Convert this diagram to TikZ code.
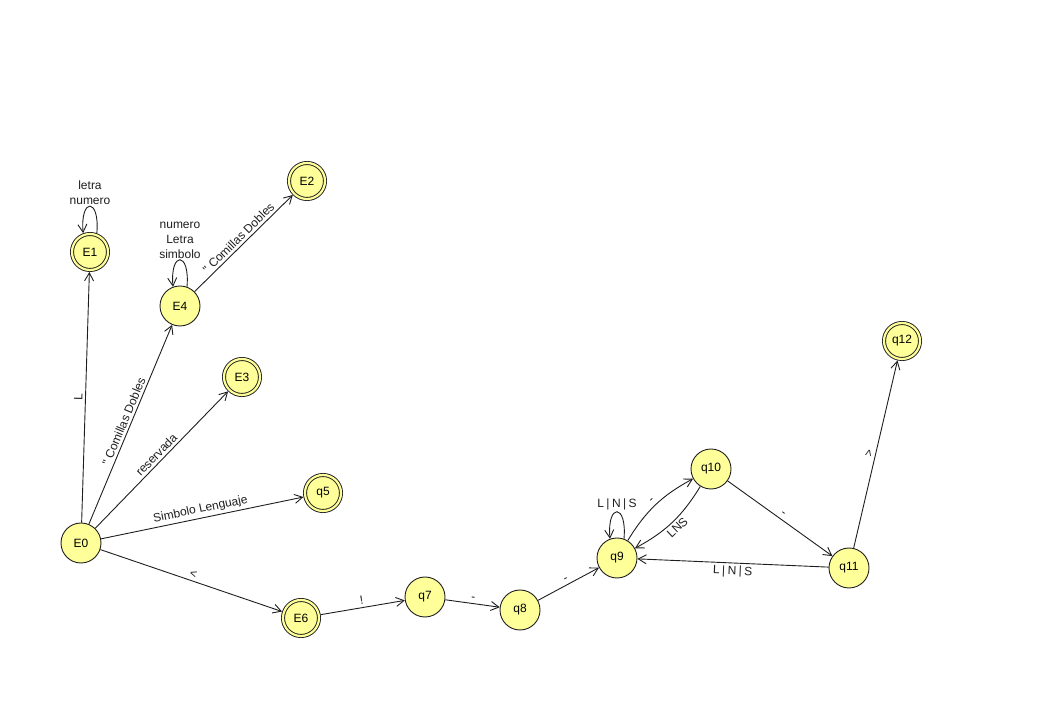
\documentclass[tikz,border=0pt]{standalone}
\usepackage{fontspec}
\newfontfamily\lab{Liberation Sans}
\usetikzlibrary{arrows.meta}
\definecolor{stfill}{RGB}{255,255,153}
\definecolor{ink}{RGB}{30,30,30}
\begin{document}
\begin{tikzpicture}[x=1pt,y=1pt,
  st/.style={circle, draw=ink, line width=0.9pt, fill=stfill, minimum size=40pt, inner sep=0pt, font=\lab\fontsize{12}{14}\selectfont},
  acc/.style={st, minimum size=36pt, double=stfill, double distance=2.2pt, outer sep=2pt},
  tr/.style={draw=ink, line width=0.9pt, -{Straight Barb[length=8pt,width=9pt,line width=0.9pt]}},
  lb/.style={font=\lab\fontsize{12}{15}\selectfont, inner sep=2.5pt, text=ink},
  lbl/.style={lb, inner sep=1pt},
]
\useasboundingbox (0,0) rectangle (1059,714);
% states
\node[st]  (E0)  at (81,171) {E0};
\node[acc] (E1)  at (90,462) {E1};
\node[st]  (E4)  at (180,408) {E4};
\node[acc] (E2)  at (307,533) {E2};
\node[acc] (E3)  at (242,337) {E3};
\node[acc] (q5)  at (323,221) {q5};
\node[acc] (E6)  at (301,96) {E6};
\node[st]  (q7)  at (425,117) {q7};
\node[st]  (q8)  at (520,104) {q8};
\node[st]  (q9)  at (617,156) {q9};
\node[st]  (q10) at (711,245) {q10};
\node[st]  (q11) at (849,146) {q11};
\node[acc] (q12) at (902,373) {q12};
% transitions
\draw[tr] (E0) -- node[lb,sloped,above]{L} (E1);
\draw[tr] (E0) -- node[lb,sloped,above]{" Comillas Dobles} (E4);
\draw[tr] (E0) -- node[lb,sloped,above]{reservada} (E3);
\draw[tr] (E0) -- node[lb,sloped,above]{Simbolo Lenguaje} (q5);
\draw[tr] (E0) -- node[lb,sloped,above]{<} (E6);
\draw[tr] (E4) -- node[lb,sloped,above]{" Comillas Dobles} (E2);
\draw[tr] (E6) -- node[lb,sloped,above]{!} (q7);
\draw[tr] (q7) -- node[lb,sloped,above]{-} (q8);
\draw[tr] (q8) -- node[lb,sloped,above]{-} (q9);
\draw[tr] (q9) to[bend left=15] node[lb,sloped,above]{-} (q10);
\draw[tr] (q10) to[bend left=15] node[lb,sloped,below]{LNS} (q9);
\draw[tr] (q10) -- node[lb,sloped,above]{-} (q11);
\draw[tr] (q11) -- node[lb,sloped,below]{L\hspace{2.4pt}|\hspace{2.4pt}N\hspace{2.4pt}|\hspace{2.4pt}S} (q9);
\draw[tr] (q11) -- node[lb,sloped,above]{>} (q12);
% loops
\draw[tr] (E1.70) .. controls +(85:36) and +(95:36) .. node[lbl,above,align=center]{letra\\numero} (E1.110);
\draw[tr] (E4.70) .. controls +(85:36) and +(95:36) .. node[lbl,above,align=center]{numero\\Letra\\simbolo} (E4.110);
\draw[tr] (q9.70) .. controls +(85:36) and +(95:36) .. node[lbl,above]{L\hspace{2.4pt}|\hspace{2.4pt}N\hspace{2.4pt}|\hspace{2.4pt}S} (q9.110);
\end{tikzpicture}
\end{document}
